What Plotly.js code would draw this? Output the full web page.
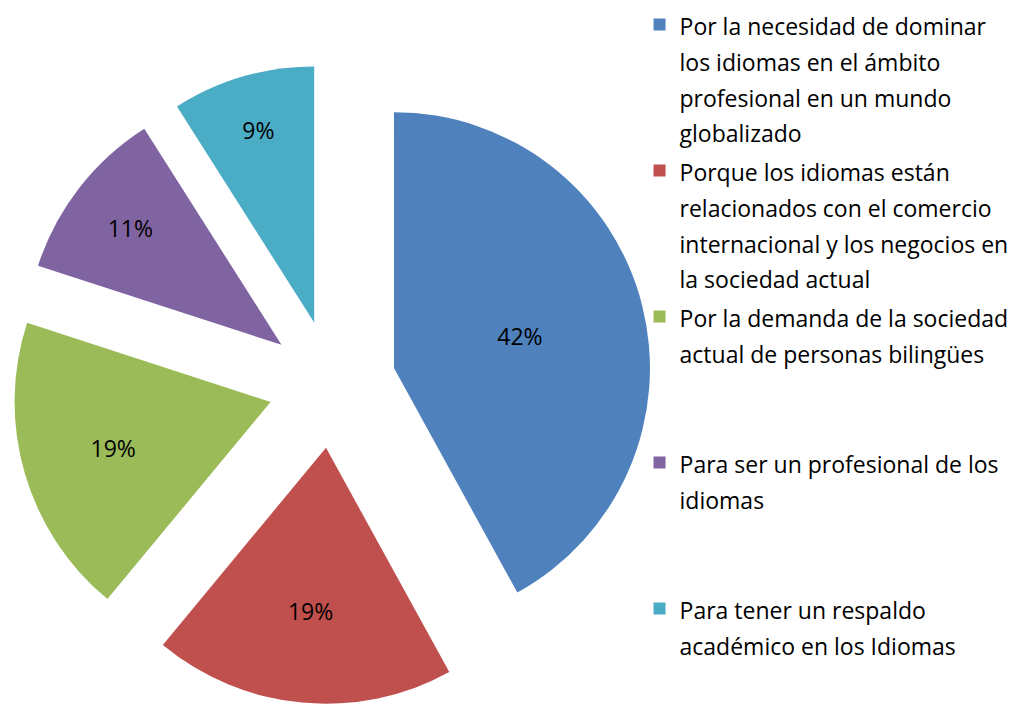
<!DOCTYPE html>
<html>
<head>
<meta charset="utf-8">
<script src="https://cdn.plot.ly/plotly-3.0.1.min.js"></script>
<style>
html, body { margin: 0; padding: 0; background: #ffffff; }
#chart { width: 1020px; height: 704px; }
</style>
</head>
<body>
<div id="chart"></div>
<script>
// Data
var categories = [
  "Por la necesidad de dominar los idiomas en el ámbito profesional en un mundo globalizado",
  "Porque los idiomas están relacionados con el comercio internacional y los negocios en la sociedad actual",
  "Por la demanda de la sociedad actual de personas bilingües",
  "Para ser un profesional de los idiomas",
  "Para tener un respaldo académico en los Idiomas"
];
// Legend lines as wrapped in the reference
var legendLines = [
  ["Por la necesidad de dominar", "los idiomas en el ámbito", "profesional en un mundo", "globalizado"],
  ["Porque los idiomas están", "relacionados con el comercio", "internacional y los negocios en", "la sociedad actual"],
  ["Por la demanda de la sociedad", "actual de personas bilingües"],
  ["Para ser un profesional de los", "idiomas"],
  ["Para tener un respaldo", "académico en los Idiomas"]
];
var values = [42, 19, 19, 11, 9];
var colors = ["#4F81BD", "#C0504D", "#9BBB59", "#8064A2", "#4BACC6"];

// Each legend entry occupies an equal slot (4 lines) like the original
var SLOT_LINES = 4;
var labels = legendLines.map(function (lines) {
  var out = lines.map(function (l) { return '<span style="font-size:23px">' + l + '</span>'; });
  while (out.length < SLOT_LINES) out.push("&nbsp;");
  return out.join("<br>");
});

var FONT = "'Open Sans', 'Noto Sans', sans-serif";

var trace = {
  type: "pie",
  labels: labels,
  values: values,
  customdata: categories,
  sort: false,
  direction: "clockwise",
  rotation: 0,
  pull: values.map(function () { return 0.25; }),
  marker: { colors: colors, line: { width: 0 } },
  textinfo: "percent",
  textposition: "inside",
  insidetextorientation: "horizontal",
  textfont: { family: FONT, size: 23, color: "#000000" },
  hoverinfo: "label+percent",
  domain: { x: [0.0113, 0.6397], y: [0, 0.909] }
};

var layout = {
  width: 1020,
  height: 704,
  margin: { l: 0, r: 0, t: 0, b: 0 },
  paper_bgcolor: "#ffffff",
  plot_bgcolor: "#ffffff",
  showlegend: true,
  legend: {
    x: 0.627,
    xanchor: "left",
    y: 1,
    yanchor: "top",
    valign: "top",
    font: { family: FONT, size: 27.5, color: "#000000" },
    bgcolor: "rgba(0,0,0,0)",
    borderwidth: 0
  }
};

Plotly.newPlot("chart", [trace], layout, { displayModeBar: false, staticPlot: true });
</script>
</body>
</html>
